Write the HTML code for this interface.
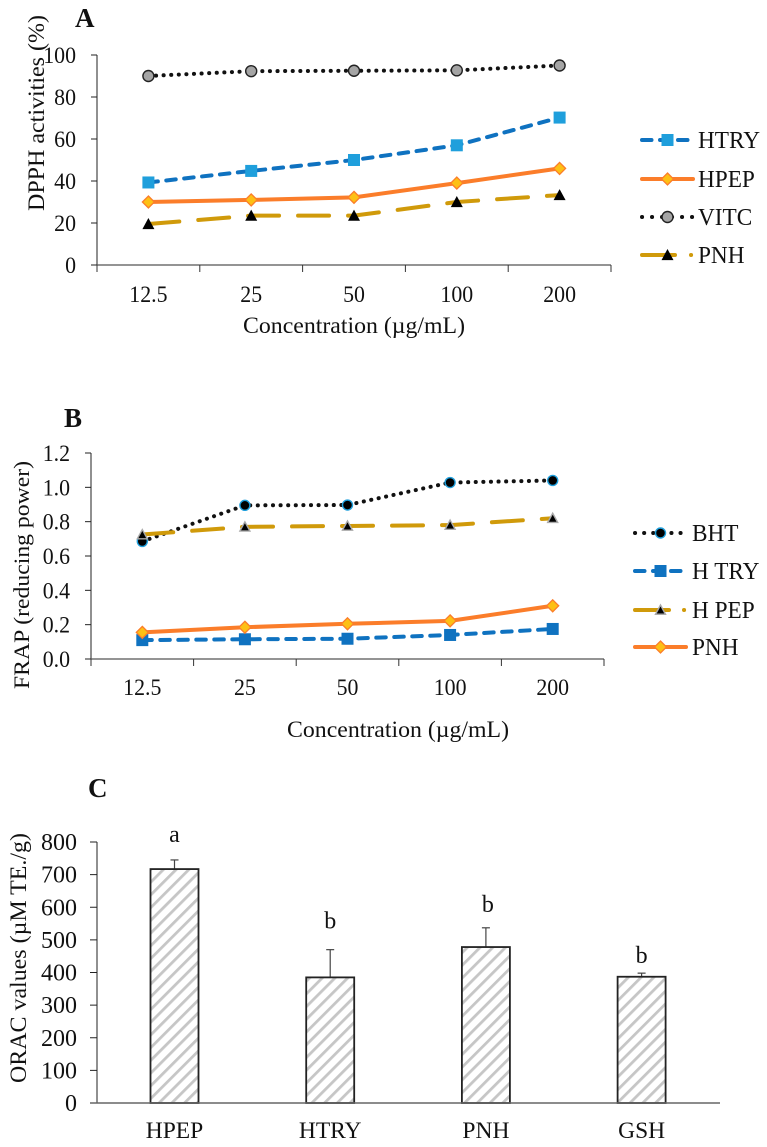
<!DOCTYPE html>
<html lang="en">
<head>
<meta charset="utf-8">
<title>Antioxidant activity charts</title>
<style>
html,body{margin:0;padding:0;background:#fff;width:767px;height:1147px;overflow:hidden}
svg{display:block}
text{font-family:"Liberation Serif",serif;fill:#111}
</style>
</head>
<body>
<svg id="fig" xmlns="http://www.w3.org/2000/svg" width="767" height="1147" viewBox="0 0 767 1147">
<defs>
<pattern id="hatch" patternUnits="userSpaceOnUse" width="9" height="9" patternTransform="rotate(-45)">
<rect width="9" height="9" fill="#fff"/>
<rect width="9" height="2.8" fill="#c6c6c6"/>
</pattern>
</defs>
<g id="root"></g>
</svg>
<script>
// Chart A values
const categoriesA = ['12.5', '25', '50', '100', '200'];
const ticksA = [0, 20, 40, 60, 80, 100];
const htryA = [39.3, 44.8, 50, 57, 70.2];
const hpepA = [30, 31, 32.2, 39, 46];
const vitcA = [90, 92.3, 92.5, 92.7, 95];
const pnhA = [19.5, 23.5, 23.5, 30, 33.3];

// Chart B values
const categoriesB = ['12.5', '25', '50', '100', '200'];
const ticksB = ['0.0', '0.2', '0.4', '0.6', '0.8', '1.0', '1.2'];
const bhtB = [0.685, 0.895, 0.897, 1.028, 1.04];
const htryB = [0.11, 0.115, 0.118, 0.14, 0.175];
const hpepB = [0.725, 0.77, 0.775, 0.78, 0.82];
const pnhB = [0.155, 0.185, 0.205, 0.222, 0.31];

// Chart C values
const categoriesC = ['HPEP', 'HTRY', 'PNH', 'GSH'];
const ticksC = [0, 100, 200, 300, 400, 500, 600, 700, 800];
const oracValues = [717, 385, 478, 387];
const oracErrorTops = [745, 470, 537, 398];
const oracLetters = ['a', 'b', 'b', 'b'];

const NS = 'http://www.w3.org/2000/svg';
const root = document.getElementById('root');

function make(tag, attrs, name, parent) {
  const el = document.createElementNS(NS, tag);
  for (const k in attrs) el.setAttribute(k, attrs[k]);
  
  
  (parent || root).appendChild(el);
  return el;
}

function label(str, x, y, size, anchor, sx, name, extra) {
  const attrs = Object.assign({
    transform: 'translate(' + x + ',' + y + ') scale(' + sx + ',1)',
    'font-size': size,
    'text-anchor': anchor
  }, extra || {});
  const el = make('text', attrs, name);
  el.textContent = str;
  return el;
}

function rotated(str, x, y, size, len, name) {
  const el = make('text', {
    transform: 'translate(' + x + ',' + y + ') rotate(-90)',
    'font-size': size,
    textLength: len,
    lengthAdjust: 'spacingAndGlyphs'
  }, name);
  el.textContent = str;
  return el;
}

function marker(kind, x, y, s, fill, stroke, sw, name) {
  if (kind === 'square') {
    return make('rect', {x: x - s, y: y - s, width: 2 * s, height: 2 * s, fill: fill, stroke: stroke, 'stroke-width': sw}, name);
  }
  if (kind === 'diamond') {
    const pts = x + ',' + (y - s) + ' ' + (x + s) + ',' + y + ' ' + x + ',' + (y + s) + ' ' + (x - s) + ',' + y;
    return make('polygon', {points: pts, fill: fill, stroke: stroke, 'stroke-width': sw}, name);
  }
  if (kind === 'circle') {
    return make('circle', {cx: x, cy: y, r: s, fill: fill, stroke: stroke, 'stroke-width': sw}, name);
  }
  return make('polygon', {points: (x) + ',' + (y - s) + ' ' + (x + s) + ',' + (y + s * 0.85) + ' ' + (x - s) + ',' + (y + s * 0.85), fill: fill, stroke: stroke, 'stroke-width': sw}, name);
}

function lineChart(cfg) {
  const y = v => cfg.y0 + (cfg.y1 - cfg.y0) * (v - cfg.min) / (cfg.max - cfg.min);
  const step = (cfg.x1 - cfg.x0) / cfg.categories.length;
  const x = i => cfg.x0 + step * (i + 0.5);
  make('line', {x1: cfg.x0, y1: cfg.y1, x2: cfg.x0, y2: cfg.y0, stroke: '#222', 'stroke-width': 1}, cfg.id + '-y-axis');
  make('line', {x1: cfg.x0, y1: cfg.y0, x2: cfg.x1, y2: cfg.y0, stroke: '#555', 'stroke-width': 1.3}, cfg.id + '-x-axis');
  cfg.ticks.forEach(t => {
    const yy = y(Number(t));
    make('line', {x1: cfg.x0 - 6, y1: yy, x2: cfg.x0, y2: yy, stroke: '#222', 'stroke-width': 1}, cfg.id + '-y-tick');
    label(String(t), cfg.x0 - cfg.tickGap, yy + 8, cfg.fontSize, 'end', cfg.sx, cfg.id + '-y-tick-label');
  });
  for (let i = 0; i <= cfg.categories.length; i++) {
    const xx = cfg.x0 + step * i;
    make('line', {x1: xx, y1: cfg.y0, x2: xx, y2: cfg.y0 + 7, stroke: '#333', 'stroke-width': 1}, cfg.id + '-x-tick');
  }
  cfg.categories.forEach((c, i) => {
    label(c, x(i), cfg.catY, cfg.fontSize, 'middle', cfg.sx, cfg.id + '-x-tick-label');
  });
  cfg.series.forEach(s => {
    const pts = s.values.map((v, i) => x(i) + ',' + y(v)).join(' ');
    make('polyline', {points: pts, fill: 'none', stroke: s.color, 'stroke-width': s.width, 'stroke-dasharray': s.dash, 'stroke-linecap': 'round', 'stroke-linejoin': 'round'}, cfg.id + '-' + s.name + '-line');
    s.values.forEach((v, i) => {
      marker(s.kind, x(i), y(v), s.size, s.fill, s.stroke, s.sw, cfg.id + '-' + s.name + '-point');
    });
  });
  cfg.series.forEach(s => {
    const ly = s.legendY;
    make('line', {x1: cfg.legX0, y1: ly, x2: cfg.legX1, y2: ly, stroke: s.color, 'stroke-width': s.width, 'stroke-dasharray': s.legendDash || s.dash, 'stroke-linecap': 'round'}, cfg.id + '-legend-' + s.name + '-line');
    marker(s.kind, (cfg.legX0 + cfg.legX1) / 2, ly, s.size, s.fill, s.stroke, s.sw, cfg.id + '-legend-' + s.name + '-marker');
    label(s.label, cfg.legText, ly + 8, cfg.legendFont, 'start', cfg.legendSx, cfg.id + '-legend-' + s.name + '-label');
  });
}

lineChart({
  id: 'chart-a', x0: 97, x1: 611, y0: 265, y1: 55, min: 0, max: 100,
  categories: categoriesA, ticks: ticksA, fontSize: 23, sx: 0.95, tickGap: 21, catY: 302,
  legX0: 642, legX1: 693, legText: 698, legendFont: 24.5, legendSx: 0.95,
  series: [
    {name: 'htry', label: 'HTRY', values: htryA, color: '#0f72c0', width: 4, dash: '9.5 8.5', kind: 'square', size: 6, fill: '#1f9fdc', stroke: '#1f9fdc', sw: 0, legendY: 140},
    {name: 'hpep', label: 'HPEP', values: hpepA, color: '#fb7d2a', width: 4, dash: 'none', kind: 'diamond', size: 6, fill: '#fdc014', stroke: '#fb7d2a', sw: 1.3, legendY: 179},
    {name: 'vitc', label: 'VITC', values: vitcA, color: '#111', width: 4, dash: '0.1 7.5', kind: 'circle', size: 5.5, fill: '#a5a5a5', stroke: '#222', sw: 1.4, legendY: 217, legendDash: '0.1 9.9'},
    {name: 'pnh', label: 'PNH', values: pnhA, color: '#d09a0a', width: 4, dash: '31 19', kind: 'triangle', size: 6, fill: '#000', stroke: '#000', sw: 0, legendY: 255, legendDash: '33 16 0.1 99'}
  ]
});

lineChart({
  id: 'chart-b', x0: 91, x1: 604, y0: 659, y1: 453, min: 0, max: 1.2,
  categories: categoriesB, ticks: ticksB, fontSize: 23, sx: 0.95, tickGap: 21, catY: 695,
  legX0: 635, legX1: 686, legText: 692, legendFont: 24.5, legendSx: 0.95,
  series: [
    {name: 'bht', label: 'BHT', values: bhtB, color: '#111', width: 4, dash: '0.1 7.5', kind: 'circle', size: 5, fill: '#000', stroke: '#1f9fdc', sw: 1.4, legendY: 533, legendDash: '0.1 9'},
    {name: 'htry', label: 'H TRY', values: htryB, color: '#0f72c0', width: 4, dash: '9.5 8.5', kind: 'square', size: 6, fill: '#0f72c0', stroke: '#0f72c0', sw: 0, legendY: 571},
    {name: 'hpep', label: 'H PEP', values: hpepB, color: '#d09a0a', width: 4, dash: '31 19', kind: 'triangle', size: 5, fill: '#000', stroke: '#aaa', sw: 1.4, legendY: 610, legendDash: '34 15 0.1 99'},
    {name: 'pnh', label: 'PNH', values: pnhB, color: '#fb7d2a', width: 4, dash: 'none', kind: 'diamond', size: 6, fill: '#fdc014', stroke: '#fb7d2a', sw: 1.3, legendY: 647}
  ]
});

rotated('DPPH activities (%)', 44, 211, 23, 196, 'chart-a-y-axis-title');
rotated('FRAP (reducing power)', 29, 689, 22, 228, 'chart-b-y-axis-title');
rotated('ORAC values (µM TE./g)', 26, 1083, 23, 250, 'chart-c-y-axis-title');

const xt = make('text', {x: 243, y: 333, 'font-size': 23, textLength: 222, lengthAdjust: 'spacingAndGlyphs'}, 'chart-a-x-axis-title');
xt.textContent = 'Concentration (µg/mL)';
const xtb = make('text', {x: 287, y: 737, 'font-size': 23, textLength: 222, lengthAdjust: 'spacingAndGlyphs'}, 'chart-b-x-axis-title');
xtb.textContent = 'Concentration (µg/mL)';

label('A', 75, 27, 27, 'start', 1, 'panel-a-label', {'font-weight': 'bold'});
label('B', 64, 427, 27, 'start', 1, 'panel-b-label', {'font-weight': 'bold'});
label('C', 88, 797, 27, 'start', 1, 'panel-c-label', {'font-weight': 'bold'});

// Chart C
(function () {
  const y0 = 1103, y1 = 842, x0 = 97, maxV = 800;
  const y = v => y0 + (y1 - y0) * v / maxV;
  const firstX = 174.5, stepX = 155.7, barW = 48;
  const letterGaps = [18, 21, 16, 10];
  const x = i => firstX + stepX * i;
  ticksC.forEach(t => {
    make('line', {x1: x0 - 7, y1: y(t), x2: x0, y2: y(t), stroke: '#222', 'stroke-width': 1}, 'chart-c-y-tick');
    label(String(t), 77, y(t) + 8, 24, 'end', 1, 'chart-c-y-tick-label');
  });
  make('line', {x1: x0, y1: y1, x2: x0, y2: y0, stroke: '#222', 'stroke-width': 1}, 'chart-c-y-axis');
  oracValues.forEach((v, i) => {
    make('line', {x1: x(i), y1: y(v), x2: x(i), y2: y(oracErrorTops[i]), stroke: '#444', 'stroke-width': 1.2}, 'chart-c-error-bar');
    make('line', {x1: x(i) - 4, y1: y(oracErrorTops[i]), x2: x(i) + 4, y2: y(oracErrorTops[i]), stroke: '#444', 'stroke-width': 1.2}, 'chart-c-error-cap');
    make('rect', {x: x(i) - barW / 2, y: y(v), width: barW, height: y0 - y(v), fill: 'url(#hatch)', stroke: '#222', 'stroke-width': 1.8}, 'chart-c-bar-' + categoriesC[i].toLowerCase());
    label(categoriesC[i], x(i), 1138, 23.5, 'middle', 1, 'chart-c-x-tick-label');
    label(oracLetters[i], x(i) + (i === 2 ? 2 : 0), y(oracErrorTops[i]) - letterGaps[i], 24, 'middle', 1, 'chart-c-significance-letter');
  });
  make('line', {x1: 90, y1: y0, x2: 720, y2: y0, stroke: '#666', 'stroke-width': 1.6}, 'chart-c-x-axis');
})();
</script>
</body>
</html>
